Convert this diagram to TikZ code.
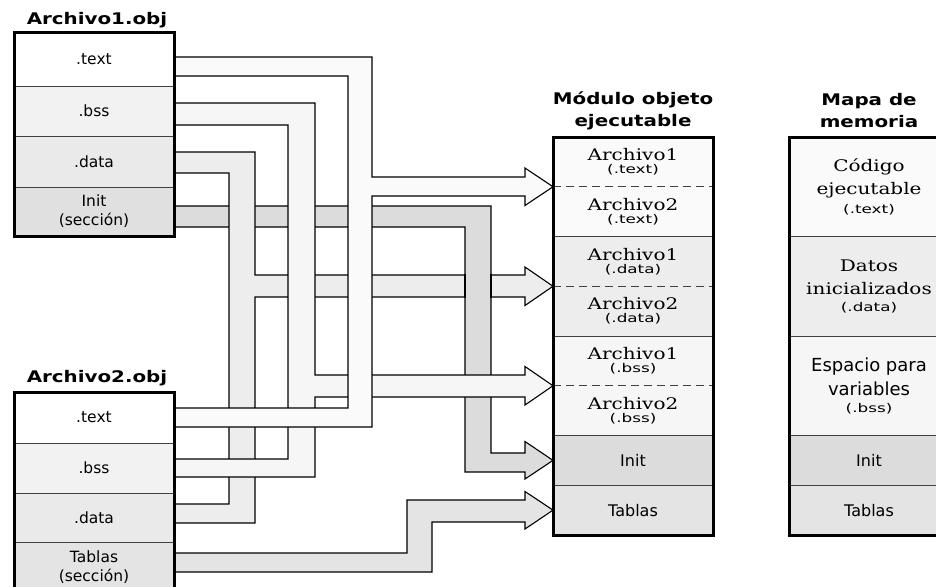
\documentclass[tikz,border=0pt]{standalone}
\usepackage{fontspec}
\setmainfont{DejaVu Sans}
\newfontfamily\ttlfont{DejaVu Sans Bold}[FakeStretch=1.24]
\newfontfamily\serfont{DejaVu Serif}[FakeStretch=1.25]
\newfontfamily\smlfont{DejaVu Sans}[FakeStretch=1.4]
\newcommand{\sml}{\smlfont\fontsize{12}{12}\selectfont}
\usepackage{tikz}
\usetikzlibrary{positioning,backgrounds}
\definecolor{cLBss}{HTML}{F2F2F2}
\definecolor{cLData}{HTML}{EAEAEA}
\definecolor{cLInit}{HTML}{E0E0E0}
\definecolor{cText}{HTML}{FAFAFA}
\definecolor{cBss}{HTML}{F6F6F6}
\definecolor{cData}{HTML}{EDEDED}
\definecolor{cInit}{HTML}{DCDCDC}
\definecolor{cTab}{HTML}{E4E4E4}

\begin{document}
\begin{tikzpicture}[x=1pt, y=-1pt,
  cell/.style={fill=#1, minimum width=160pt, inner sep=0pt, outer sep=0pt, align=center, font=\fontsize{15.5}{19}\selectfont},
  modcell/.style={cell=#1, minimum height=49.75pt, font=\fontsize{16}{16}\selectfont},
  memcell/.style={cell=#1, minimum height=99.5pt, font=\serfont\fontsize{16}{23}\selectfont},
  ttl/.style={inner sep=0pt, align=center, font=\ttlfont\fontsize{16}{22}\selectfont},
  frame/.style={draw=black, line width=3pt},
  sepline/.style={draw=black!75, line width=0.9pt},
  dashline/.style={sepline, dash pattern=on 8pt off 5pt},
  band/.style={fill=#1, draw=black, line width=1.1pt},
  bandline/.style={draw=black, line width=1.1pt}]
\useasboundingbox (0,0) rectangle (936,586);
\clip (0,0) rectangle (936,586);

\node[ttl] (t1) at (97,20) {Archivo1.obj};
\node[cell=white, minimum height=53pt] (a1text) at (94,59.5) {.text};
\node[cell=cLBss, minimum height=50pt, below=0pt of a1text] (a1bss) {.bss};
\node[cell=cLData, minimum height=51pt, below=0pt of a1bss] (a1data) {.data};
\node[cell=cLInit, minimum height=49pt, below=0pt of a1data] (a1init) {Init\\(sección)};

\node[ttl] (t2) at (97,378) {Archivo2.obj};
\node[cell=white, minimum height=51pt] (a2text) at (94,417.5) {.text};
\node[cell=cLBss, minimum height=50pt, below=0pt of a2text] (a2bss) {.bss};
\node[cell=cLData, minimum height=49pt, below=0pt of a2bss] (a2data) {.data};
\node[cell=cTab, minimum height=50pt, below=0pt of a2data] (a2tab) {Tablas\\(sección)};

\node[ttl] (tmod) at (633,111) {Módulo objeto\\ejecutable};
\node[modcell=cText] (m1text) at (633,161.875) {{\serfont Archivo1}\\[-3pt]{\sml (.text)}};
\node[modcell=cText, below=0pt of m1text] (m2text) {{\serfont Archivo2}\\[-3pt]{\sml (.text)}};
\node[modcell=cData, below=0pt of m2text] (m1data) {{\serfont Archivo1}\\[-3pt]{\sml (.data)}};
\node[modcell=cData, below=0pt of m1data] (m2data) {{\serfont Archivo2}\\[-3pt]{\sml (.data)}};
\node[modcell=cBss, below=0pt of m2data] (m1bss) {{\serfont Archivo1}\\[-3pt]{\sml (.bss)}};
\node[modcell=cBss, below=0pt of m1bss] (m2bss) {{\serfont Archivo2}\\[-3pt]{\sml (.bss)}};
\node[modcell=cInit, below=0pt of m2bss] (minit) {Init};
\node[modcell=cTab, below=0pt of minit] (mtab) {Tablas};

\node[ttl] (tmap) at (869,111) {Mapa de\\memoria};
\node[memcell=cText] (pcode) at (869,186.75) {Código\\ejecutable\\[-4pt]{\sml (.text)}};
\node[memcell=cData, below=0pt of pcode] (pdata) {Datos\\inicializados\\[-6pt]{\sml (.data)}};
\node[memcell=cBss, below=0pt of pdata, font=\fontsize{18}{24}\selectfont] (pbss) {Espacio para\\variables\\[-7pt]{\sml (.bss)}};
\node[modcell=cInit, below=0pt of pbss] (pinit) {Init};
\node[modcell=cTab, below=0pt of pinit] (ptab) {Tablas};

\draw[sepline] (a1text.south west) -- (a1text.south east) (a1bss.south west) -- (a1bss.south east) (a1data.south west) -- (a1data.south east);
\draw[sepline] (a2text.south west) -- (a2text.south east) (a2bss.south west) -- (a2bss.south east) (a2data.south west) -- (a2data.south east);
\draw[sepline] (m2text.south west) -- (m2text.south east) (m2data.south west) -- (m2data.south east) (m2bss.south west) -- (m2bss.south east) (minit.south west) -- (minit.south east);
\draw[dashline] (m1text.south west) -- (m1text.south east) (m1data.south west) -- (m1data.south east) (m1bss.south west) -- (m1bss.south east);
\draw[sepline] (pcode.south west) -- (pcode.south east) (pdata.south west) -- (pdata.south east) (pbss.south west) -- (pbss.south east) (pinit.south west) -- (pinit.south east);

\draw[frame] (a1text.north west) rectangle (a1init.south east);
\draw[frame] (a2text.north west) rectangle (a2tab.south east);
\draw[frame] (m1text.north west) rectangle (mtab.south east);
\draw[frame] (pcode.north west) rectangle (ptab.south east);

\begin{scope}[on background layer]
\path[band=cInit] (a1init.east |- 0,206) -- (491,206) -- (491,453) -- (525,453) -- (525,441.5) -- (minit.west) -- (525,479) -- (525,472) -- (465,472) -- (465,227) -- (a1init.east |- 0,227) -- cycle;
\path[band=cData] (a1data.east |- 0,152) -- (255,152) -- (255,275) -- (525,275) -- (525,267) -- (m1data.south west) -- (525,305.5) -- (525,297) -- (255,297) -- (255,523) -- (a2data.east |- 0,523) -- (a2data.east |- 0,504) -- (229,504) -- (229,173) -- (a1data.east |- 0,173) -- cycle;
\fill[cInit] (465.55,274.3) rectangle (490.45,297.7);
\draw[bandline] (465,274) -- (465,298) (491,274) -- (491,298);
\path[band=cBss] (a1bss.east |- 0,103) -- (315,103) -- (315,375) -- (525,375) -- (525,366.5) -- (m1bss.south west) -- (525,405) -- (525,397) -- (315,397) -- (315,477) -- (a2bss.east |- 0,477) -- (a2bss.east |- 0,459) -- (288,459) -- (288,125) -- (a1bss.east |- 0,125) -- cycle;
\path[band=cText] (a1text.east |- 0,57) -- (372,57) -- (372,177) -- (525,177) -- (525,168) -- (m1text.south west) -- (525,205.5) -- (525,196) -- (372,196) -- (372,427) -- (a2text.east |- 0,427) -- (a2text.east |- 0,408) -- (348,408) -- (348,76) -- (a1text.east |- 0,76) -- cycle;
\path[band=cTab] (a2tab.east |- 0,553) -- (407,553) -- (407,500) -- (525,500) -- (525,491.5) -- (mtab.west) -- (525,529) -- (525,522) -- (432,522) -- (432,572) -- (a2tab.east |- 0,572) -- cycle;
\end{scope}
\end{tikzpicture}
\end{document}
